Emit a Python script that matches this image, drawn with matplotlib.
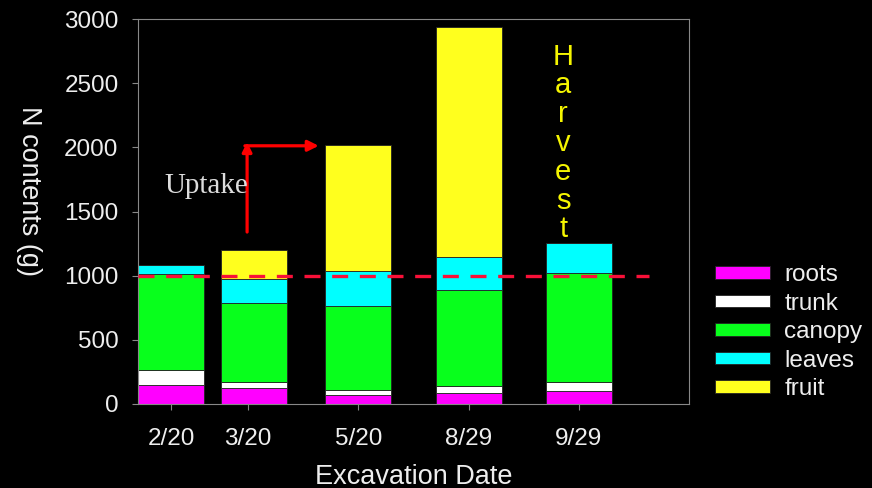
import matplotlib
matplotlib.use('Agg')
import matplotlib.pyplot as plt
import numpy as np

plt.rcParams['font.family'] = ['Liberation Sans', 'DejaVu Sans']

# N contents (g) per organ at each excavation date
dates  = ["2/20", "3/20", "5/20", "8/29", "9/29"]
roots  = [150, 127, 70, 88, 100]
trunk  = [115, 47, 40, 52, 72]
canopy = [745, 615, 650, 750, 848]
leaves = [70, 185, 278, 258, 232]
fruit  = [0, 226, 980, 1790, 0]

parts  = ["roots", "trunk", "canopy", "leaves", "fruit"]
colors = ["#ff00ff", "#ffffff", "#08ff1c", "#00ffff", "#ffff1e"]

# layout: bars sit on an uneven date axis
bar_x  = [0.30, 1.05, 2.0, 3.0, 4.0]
tick_x = [0.30, 1.00, 2.0, 3.0, 4.0]
width  = 0.6
fg = "#eeeeee"

fig = plt.figure(figsize=(8.72, 4.88), dpi=100, facecolor="black")
ax = fig.add_axes([138 / 872, 84 / 488, 551 / 872, 385 / 488], facecolor="black")

bottom = np.zeros(len(dates))
for name, vals, c in zip(parts, [roots, trunk, canopy, leaves, fruit], colors):
    ax.bar(bar_x, vals, width, bottom=bottom, color=c, edgecolor="#222222",
           linewidth=0.6, label=name)
    bottom += np.array(vals)

ax.plot([0, 4.64], [1000, 1000], color="#f81038", linewidth=2.4,
        dashes=(4.8, 3.5), zorder=5)

# uptake arrow
ax.annotate("", xy=(0.99, 2040), xytext=(0.99, 1340),
            arrowprops=dict(arrowstyle="-|>", color="red", lw=2.3,
                            mutation_scale=14, shrinkA=0, shrinkB=0))
ax.annotate("", xy=(1.64, 2012), xytext=(0.97, 2012),
            arrowprops=dict(arrowstyle="-|>", color="red", lw=2.3,
                            mutation_scale=16, shrinkA=0, shrinkB=0))
ax.text(0.62, 1700, "Uptake", family="Liberation Serif", fontsize=21,
        color="#dddddd", ha="center", va="center")

# harvest label, one letter per line
for i, ch in enumerate("Harvest"):
    ax.text(3.86, 2645 - i * 224.5, ch, color="#f5f500", fontsize=21,
            ha="center", va="baseline")

ax.set_xlim(0, 5)
ax.set_ylim(0, 3000)
ax.set_yticks(range(0, 3001, 500))
ax.set_xticks(tick_x)
ax.set_xticklabels(dates)
for s in ax.spines.values():
    s.set_color("#888888")
ax.tick_params(colors="#888888", labelcolor=fg, labelsize=17.5, length=4)
ax.tick_params(axis="x", pad=13)
ax.tick_params(axis="y", pad=10)

ax.set_xlabel("Excavation Date", color=fg, fontsize=19.5, labelpad=10)
ax.set_ylabel("N contents (g)", color=fg, fontsize=19.5, rotation=270,
              va="center", ha="center")
ax.yaxis.set_label_coords(-0.198, 0.553)

ax.legend(loc="upper left", bbox_to_anchor=(715 / 872, 1 - 264 / 488),
          bbox_transform=fig.transFigure, frameon=False, fontsize=17.5,
          labelcolor=fg, handlelength=2.25, handleheight=0.42,
          handletextpad=0.6, labelspacing=0.27, borderpad=0, borderaxespad=0)

plt.savefig("out.png", dpi=100, facecolor="black")
plt.close()
